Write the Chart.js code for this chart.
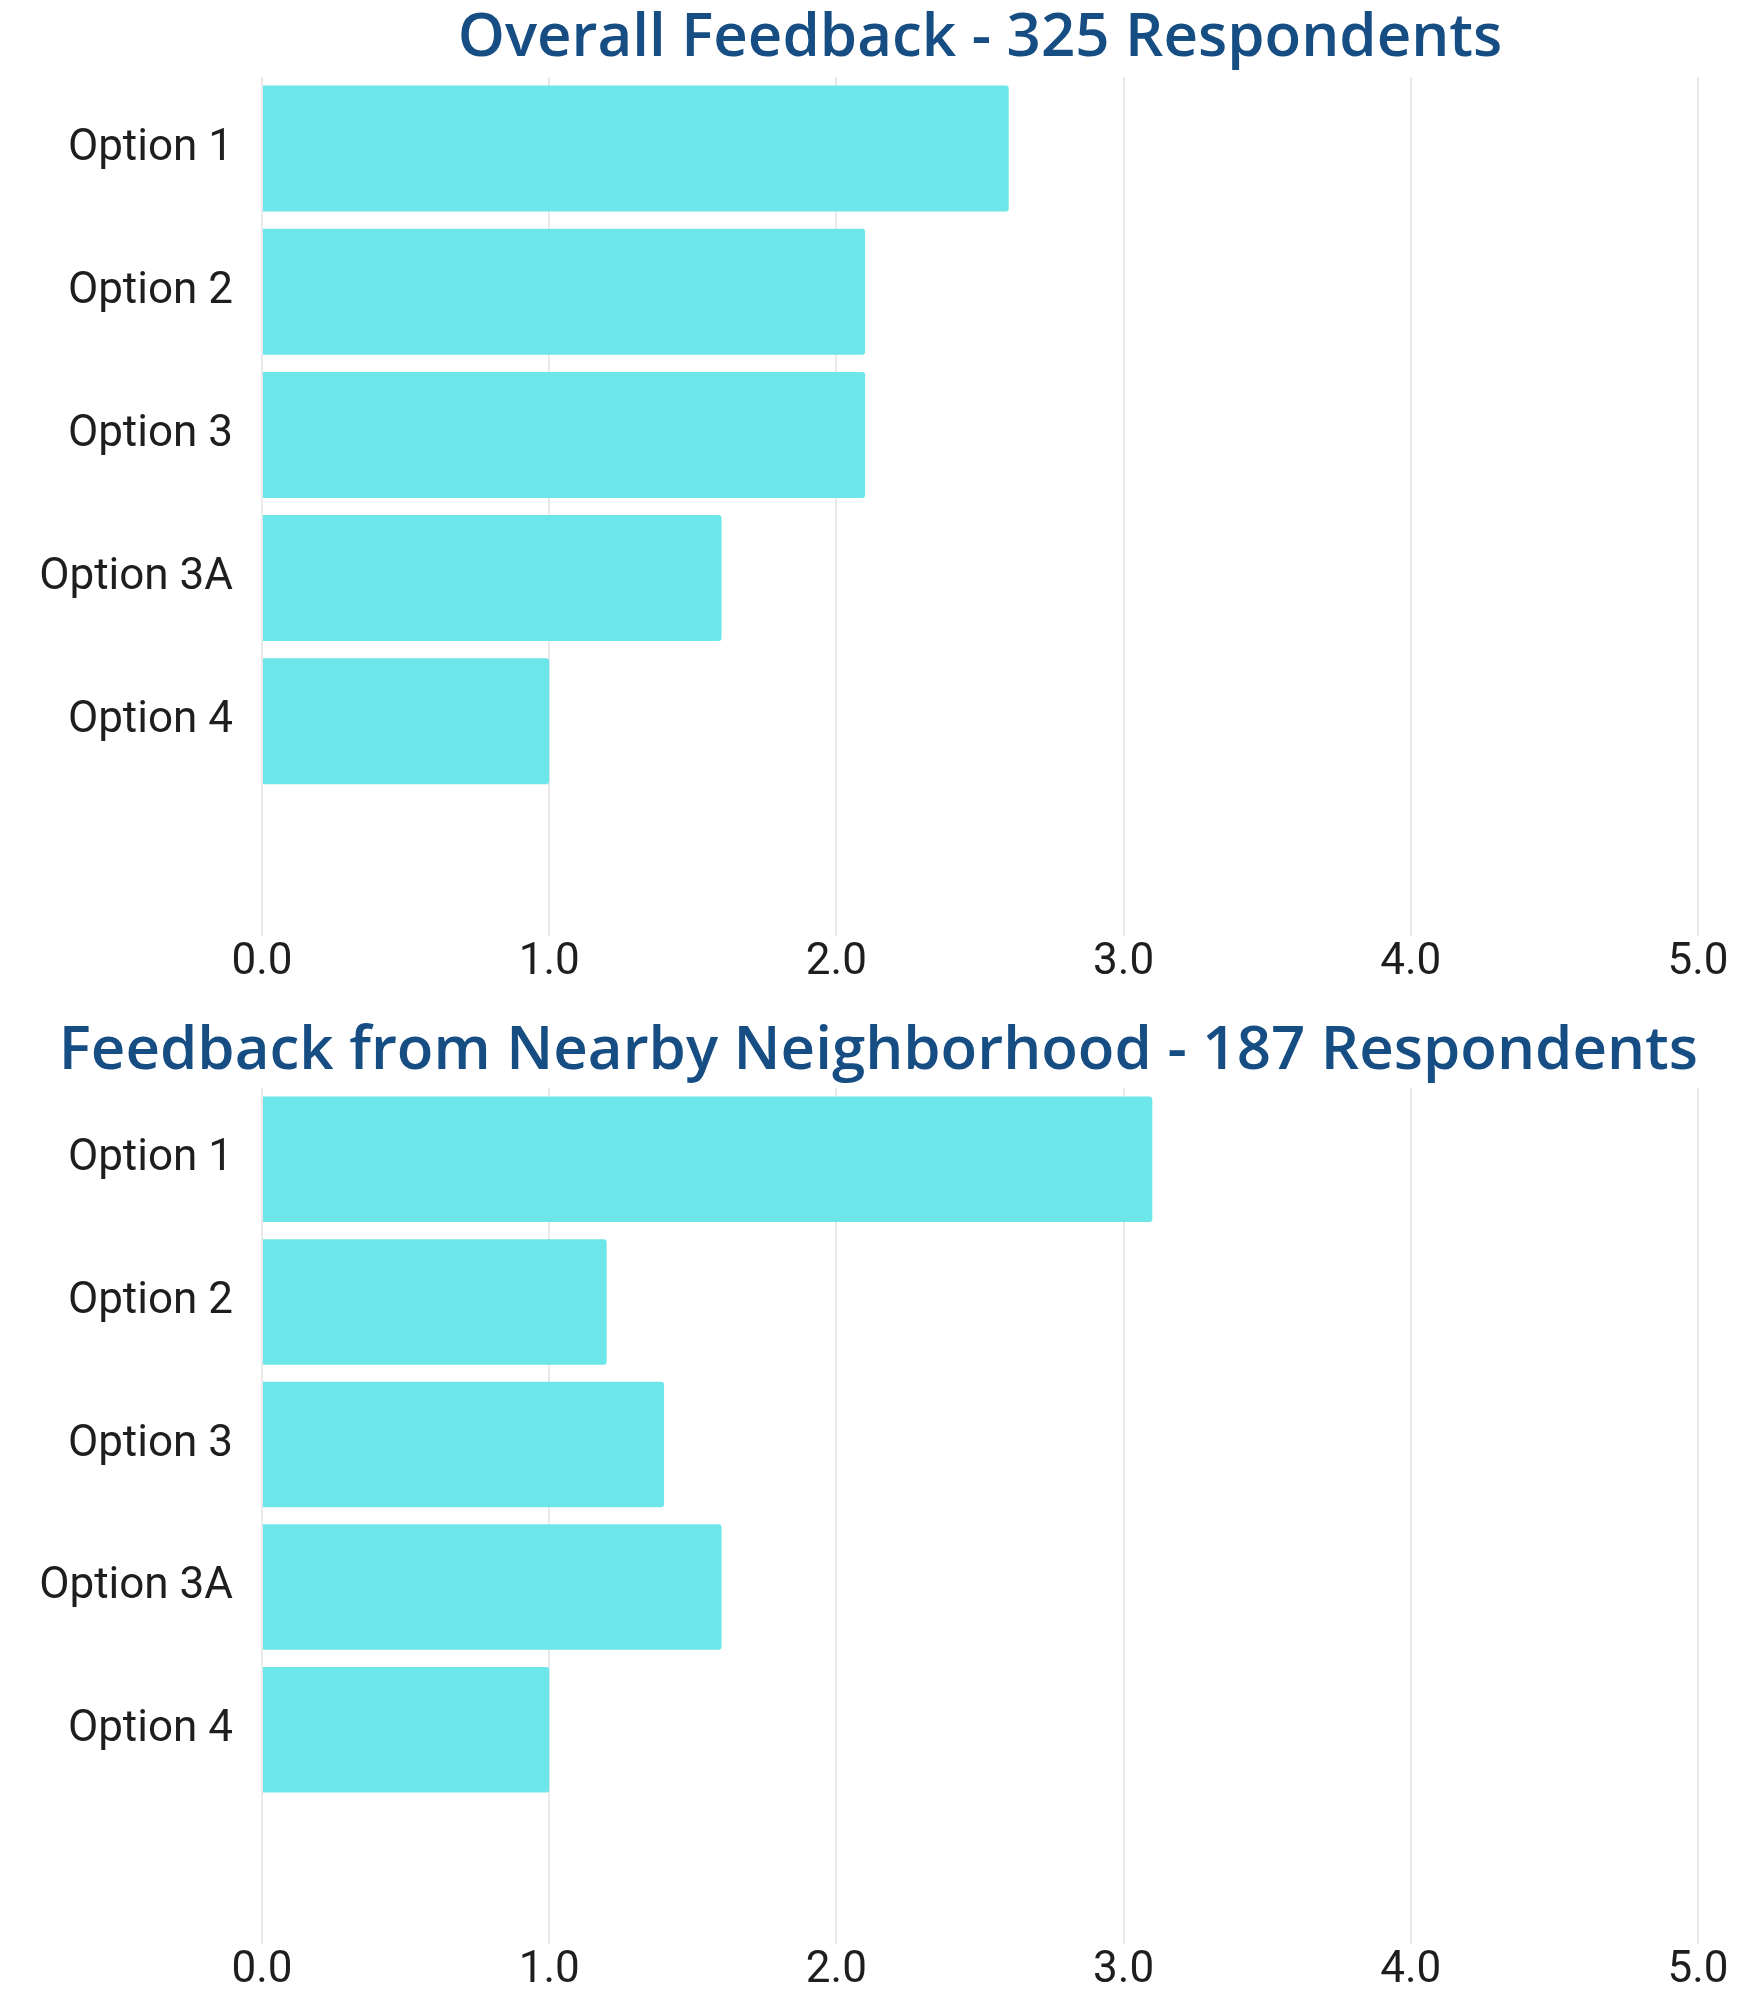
<!DOCTYPE html>
<html>
<head>
<meta charset="utf-8">
<script src="https://cdn.jsdelivr.net/npm/chart.js@4.4.1/dist/chart.umd.min.js"></script>
<style>
  body { margin: 0; background: #ffffff; }
  canvas { display: block; }
</style>
</head>
<body>
<canvas id="overallChart" width="1745" height="1000"></canvas>
<canvas id="nearbyChart" width="1745" height="999"></canvas>
<script>
// categories (last slot is left empty in the original)
const categories = ["Option 1", "Option 2", "Option 3", "Option 3A", "Option 4", ""];
const overallValues = [2.6, 2.1, 2.1, 1.6, 1.0, null];
const nearbyValues = [3.1, 1.2, 1.4, 1.6, 1.0, null];
const xTicks = [0, 1, 2, 3, 4, 5];

const barColor = "#6ce6e8";
const titleColor = "#164d83";
const labelColor = "#1e1e1e";
const gridColor = "#e9e9e9";

function makeConfig(title, values, titleOpts) {
    return {
        type: "bar",
        data: {
            labels: categories,
            datasets: [{
                data: values,
                backgroundColor: barColor,
                borderRadius: 3,
                barPercentage: 0.88,
                categoryPercentage: 1
            }]
        },
        options: {
            indexAxis: "y",
            responsive: false,
            animation: false,
            layout: { padding: { left: 0, right: 47, top: 0, bottom: titleOpts.layoutBottom } },
            plugins: {
                legend: { display: false },
                tooltip: { enabled: false },
                title: {
                    display: true,
                    text: title,
                    color: titleColor,
                    fullSize: titleOpts.fullSize,
                    align: titleOpts.align,
                    font: { family: "'Open Sans'", size: 60, weight: "600", lineHeight: 1.2 },
                    padding: { top: titleOpts.top, bottom: titleOpts.bottom }
                }
            },
            scales: {
                x: {
                    min: xTicks[0],
                    max: xTicks[xTicks.length - 1],
                    afterBuildTicks: function (scale) {
                        scale.ticks = xTicks.map(v => ({ value: v }));
                    },
                    ticks: {
                        color: labelColor,
                        padding: 5,
                        font: { family: "Roboto", size: 44, lineHeight: 1 },
                        callback: function (v) { return Number(v).toFixed(1); }
                    },
                    grid: { color: gridColor, lineWidth: 2, drawTicks: false },
                    border: { display: false }
                },
                y: {
                    afterFit: function (scale) { scale.width = 262; },
                    ticks: {
                        color: labelColor,
                        padding: 29,
                        font: { family: "Roboto", size: 44 }
                    },
                    grid: { display: false, drawTicks: false },
                    border: { display: false }
                }
            }
        }
    };
}

new Chart(document.getElementById("overallChart"),
    makeConfig("Overall Feedback - 325 Respondents", overallValues,
        { top: 3, bottom: 2, layoutBottom: 10, fullSize: false, align: "center" }));

new Chart(document.getElementById("nearbyChart"),
    makeConfig("Feedback from Nearby Neighborhood - 187 Respondents", nearbyValues,
        { top: 16, bottom: 0, layoutBottom: 0, fullSize: true, align: "end" }));
</script>
</body>
</html>
